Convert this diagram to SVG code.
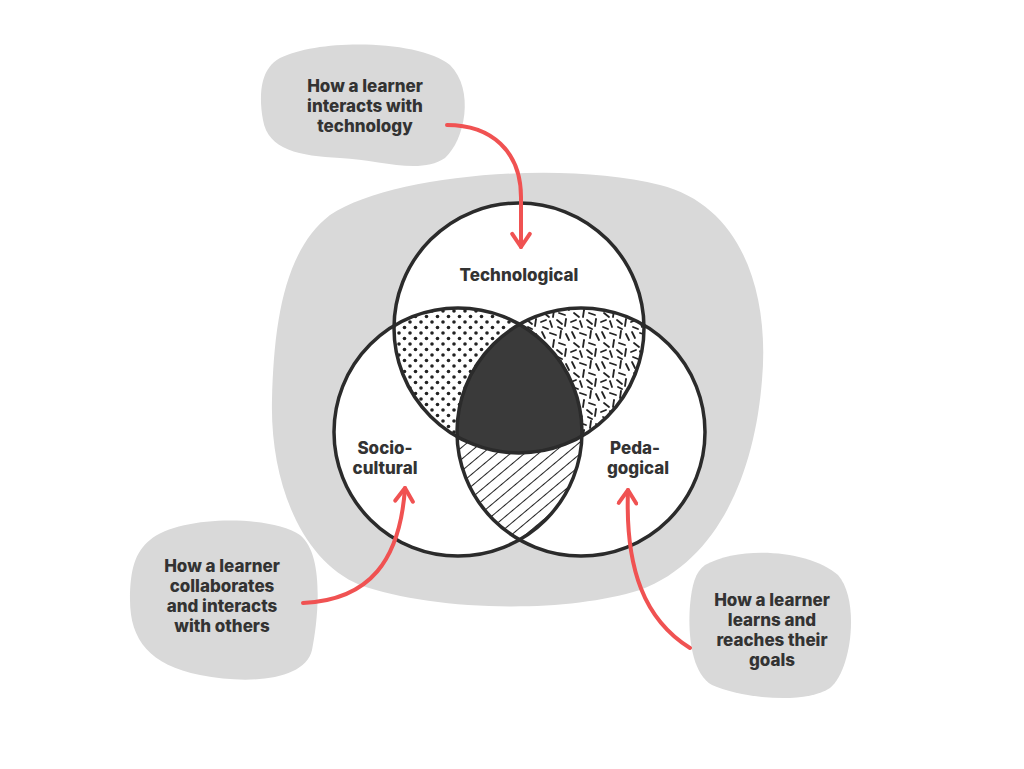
<svg xmlns="http://www.w3.org/2000/svg" width="1024" height="769" viewBox="0 0 1024 769">
<style>
.blob{fill:#d9d9d9}
.c{fill:none;stroke:#2b2b2b;stroke-width:3.5}
.t{font-family:Inter,"Liberation Sans",sans-serif;font-weight:800;font-size:17px;fill:#333;text-anchor:middle}
.arr{fill:none;stroke:#f05252;stroke-width:4;stroke-linecap:round;stroke-linejoin:round}
</style>
<defs>
<pattern id="dots" width="11" height="11" patternUnits="userSpaceOnUse">
<rect width="11" height="11" fill="#fff"/><circle cx="3" cy="3" r="1.8" fill="#222"/><circle cx="8.5" cy="8.5" r="1.8" fill="#222"/>
</pattern>
<pattern id="lines" width="9" height="9" patternUnits="userSpaceOnUse" patternTransform="rotate(-40)">
<rect width="9" height="9" fill="#fff"/><line x1="0" y1="0" x2="9" y2="0" stroke="#222" stroke-width="2"/>
</pattern>
<pattern id="dash" width="30" height="30" patternUnits="userSpaceOnUse">
<rect width="30" height="30" fill="#fff"/>
<g stroke="#222" stroke-width="1.8" stroke-linecap="round">
<line x1="2" y1="2" x2="5" y2="8"/><line x1="10" y1="3" x2="16" y2="5"/><line x1="21" y1="1" x2="20" y2="8"/><line x1="26" y1="4" x2="29" y2="10"/>
<line x1="4" y1="13" x2="9" y2="17"/><line x1="14" y1="10" x2="13" y2="17"/><line x1="19" y1="13" x2="25" y2="15"/>
<line x1="1" y1="22" x2="6" y2="20"/><line x1="10" y1="21" x2="12" y2="27"/><line x1="17" y1="20" x2="22" y2="24"/><line x1="26" y1="19" x2="25" y2="26"/>
<line x1="3" y1="27" x2="8" y2="29"/><line x1="18" y1="27" x2="22" y2="29"/>
</g>
</pattern>
<clipPath id="cT"><circle cx="519" cy="328" r="125"/></clipPath>
<clipPath id="cS"><circle cx="458" cy="432" r="124"/></clipPath>
<clipPath id="cP"><circle cx="581" cy="432" r="124"/></clipPath>
<marker id="ah" viewBox="0 0 20 20" refX="16" refY="10" markerWidth="22" markerHeight="22" orient="auto" markerUnits="userSpaceOnUse">
<path d="M4 2 L16 10 L4 18" fill="none" stroke="#f05252" stroke-width="3.6" stroke-linecap="round" stroke-linejoin="round"/>
</marker>
</defs>
<rect width="1024" height="769" fill="#fff"/>
<g id="background">
<path class="blob" d="M330 215 C390 175 560 160 660 185 C740 205 770 290 762 380 C755 470 720 560 640 590 C560 615 430 610 360 585 C300 560 270 480 272 400 C274 320 285 250 330 215 Z"/>
</g>
<g id="venn">
<circle cx="519" cy="328" r="125" fill="#fff"/>
<circle cx="458" cy="432" r="124" fill="#fff"/>
<circle cx="581" cy="432" r="124" fill="#fff"/>
<g clip-path="url(#cS)"><circle cx="519" cy="328" r="125" fill="url(#dots)"/></g>
<g clip-path="url(#cP)"><circle cx="519" cy="328" r="125" fill="url(#dash)"/></g>
<g clip-path="url(#cS)"><circle cx="581" cy="432" r="124" fill="url(#lines)"/></g>
<g clip-path="url(#cS)"><circle cx="581" cy="432" r="124" fill="#3a3a3a" clip-path="url(#cT)"/></g>
<circle class="c" cx="519" cy="328" r="125"/>
<circle class="c" cx="458" cy="432" r="124"/>
<circle class="c" cx="581" cy="432" r="124"/>
</g>
<g id="node-tech"><text class="t" x="519" y="281">Technological</text></g>
<g id="node-socio"><text class="t" x="385" y="454">Socio-</text><text class="t" x="385" y="474">cultural</text></g>
<g id="node-peda"><text class="t" x="635" y="454">Peda-</text><text class="t" x="638" y="474">gogical</text></g>
<g id="note-tech">
<path class="blob" d="M280 58 C320 38 420 40 450 65 C475 90 465 140 445 158 C420 175 380 160 340 158 C300 156 268 150 263 120 C258 90 262 68 280 58 Z"/>
<text class="t" x="365" y="92">How a learner</text><text class="t" x="365" y="112">interacts with</text><text class="t" x="365" y="132">technology</text>
</g>
<g id="note-socio">
<path class="blob" d="M150 540 C180 515 270 515 300 535 C325 555 318 620 312 650 C305 680 250 685 200 675 C150 665 130 640 130 600 C130 570 135 552 150 540 Z"/>
<text class="t" x="222" y="572">How a learner</text><text class="t" x="222" y="592">collaborates</text><text class="t" x="222" y="612">and interacts</text><text class="t" x="222" y="632">with others</text>
</g>
<g id="note-peda">
<path class="blob" d="M705 565 C740 545 810 550 838 575 C860 600 852 670 830 688 C805 705 740 698 712 685 C690 672 688 630 690 605 C692 585 695 572 705 565 Z"/>
<text class="t" x="772" y="606">How a learner</text><text class="t" x="772" y="626">learns and</text><text class="t" x="772" y="646">reaches their</text><text class="t" x="772" y="666">goals</text>
</g>
<g id="connectors">
<path class="arr" d="M447 125 C490 125 522 150 521 200 L521 247" marker-end="url(#ah)"/>
<path class="arr" d="M303 603 C370 600 400 560 405 488" marker-end="url(#ah)"/>
<path class="arr" d="M690 648 C645 620 625 570 628 490" marker-end="url(#ah)"/>
</g>
</svg>
